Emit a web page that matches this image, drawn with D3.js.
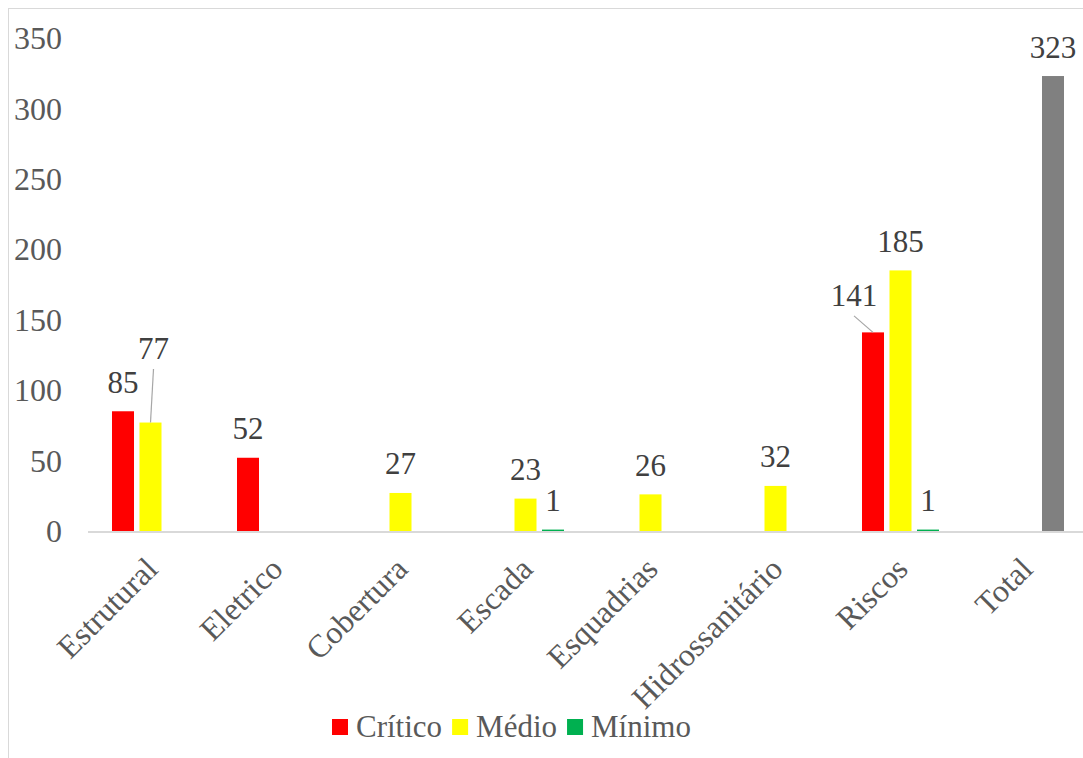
<!DOCTYPE html>
<html>
<head>
<meta charset="utf-8">
<script src="https://cdn.jsdelivr.net/npm/d3@7"></script>
<style>
  html, body { margin: 0; padding: 0; background: #fff; }
  svg text { font-family: 'Liberation Serif', 'DejaVu Serif', 'Noto Serif', serif; }
  .tick-label { font-size: 32px; fill: #595959; }
  .cat-label { font-size: 32px; fill: #595959; }
  .data-label { font-size: 31px; fill: #404040; text-anchor: middle; }
  .legend-text { font-size: 31px; fill: #595959; }
</style>
</head>
<body>
<svg id="chart" width="1083" height="758"></svg>
<script>
// chart data
const categories = ['Estrutural', 'Eletrico', 'Cobertura', 'Escada', 'Esquadrias', 'Hidrossanitário', 'Riscos', 'Total'];
const critico = [85, 52, null, null, null, null, 141, null];
const medio   = [77, null, 27, 23, 26, 32, 185, null];
const minimo  = [null, null, null, 1, null, null, 1, null];
const total   = [null, null, null, null, null, null, null, 323];
const yTicks  = [0, 50, 100, 150, 200, 250, 300, 350];

const seriesNames = ['Crítico', 'Médio', 'Mínimo'];
const colors = { 'Crítico': '#ff0000', 'Médio': '#ffff00', 'Mínimo': '#00b050', 'Total': '#808080' };

const svg = d3.select('#chart');
const W = 1083, H = 758;
const plot = { left: 88, right: 1088, top: 38, bottom: 531 };

// outer chart border
svg.append('rect')
  .attr('x', 8.5).attr('y', 8.5)
  .attr('width', W + 20).attr('height', H + 20)
  .attr('fill', 'none').attr('stroke', '#d9d9d9');

const x = d3.scaleBand().domain(categories).range([plot.left, plot.right]);
const x1 = d3.scaleBand().domain(seriesNames)
  .range([-41.25, 41.25]).paddingInner(0.2).paddingOuter(0.1);
const y = d3.scaleLinear().domain([0, 350]).range([plot.bottom, plot.top]);

// y tick labels (no axis line, no gridlines)
svg.append('g').selectAll('text')
  .data(yTicks)
  .enter().append('text')
  .attr('class', 'tick-label')
  .attr('x', 62)
  .attr('y', d => y(d))
  .attr('dy', '0.35em')
  .attr('text-anchor', 'end')
  .text(d => d);

// baseline
svg.append('line')
  .attr('x1', plot.left).attr('x2', W)
  .attr('y1', y(0) + 1).attr('y2', y(0) + 1)
  .attr('stroke', '#d9d9d9').attr('stroke-width', 2);

// flatten bars; Total sits in the third slot
const bars = [];
categories.forEach((c, i) => {
  if (critico[i] != null) bars.push({ cat: c, slot: 'Crítico', color: colors['Crítico'], v: critico[i] });
  if (medio[i] != null) bars.push({ cat: c, slot: 'Médio', color: colors['Médio'], v: medio[i] });
  if (minimo[i] != null) bars.push({ cat: c, slot: 'Mínimo', color: colors['Mínimo'], v: minimo[i] });
  if (total[i] != null) bars.push({ cat: c, slot: 'Mínimo', color: colors['Total'], v: total[i] });
});

const cx = d => x(d.cat) + x.bandwidth() / 2;
const barX = d => cx(d) + x1(d.slot);

svg.append('g').selectAll('rect')
  .data(bars)
  .enter().append('rect')
  .attr('x', barX)
  .attr('y', d => y(d.v))
  .attr('width', x1.bandwidth())
  .attr('height', d => y(0) - y(d.v))
  .attr('fill', d => d.color);

// a couple of labels were dragged away in the original, with leader lines
const nudge = { 'Estrutural|Médio': [3, -45], 'Riscos|Crítico': [-19, -8] };
const labelGap = 18.5;

const labels = svg.append('g');
bars.forEach(d => {
  const bx = barX(d) + x1.bandwidth() / 2;
  const by = y(d.v) - labelGap;
  const n = nudge[d.cat + '|' + d.slot] || [0, 0];
  labels.append('text')
    .attr('class', 'data-label')
    .attr('x', bx + n[0])
    .attr('y', by + n[1])
    .text(d.v);
  if (n[0] || n[1]) {
    labels.append('line')
      .attr('x1', bx + n[0]).attr('y1', by + n[1] + 10)
      .attr('x2', bx).attr('y2', y(d.v))
      .attr('stroke', '#a6a6a6').attr('stroke-width', 1.2);
  }
});

// rotated category labels
svg.append('g').selectAll('text')
  .data(categories)
  .enter().append('text')
  .attr('class', 'cat-label')
  .attr('text-anchor', 'end')
  .attr('transform', d => `translate(${x(d) + x.bandwidth() / 2 + 9},571) rotate(-45)`)
  .text(d => d);

// legend
const legend = svg.append('g');
let lx = 332;
seriesNames.forEach(s => {
  legend.append('rect')
    .attr('x', lx).attr('y', 719)
    .attr('width', 16).attr('height', 16)
    .attr('fill', colors[s]);
  const t = legend.append('text')
    .attr('class', 'legend-text')
    .attr('x', lx + 24).attr('y', 737)
    .text(s);
  lx += 24 + t.node().getComputedTextLength() + 10;
});
</script>
</body>
</html>
